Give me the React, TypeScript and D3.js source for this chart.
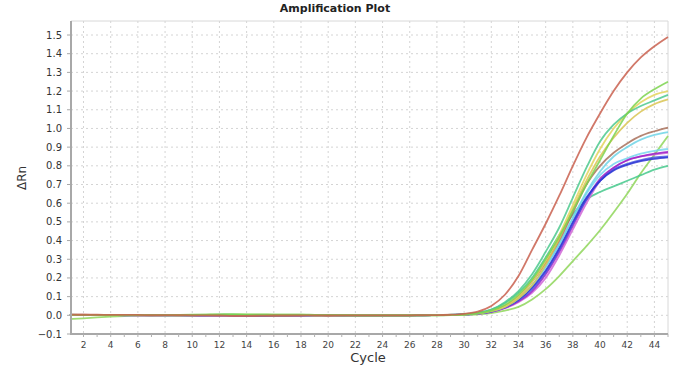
import React from "react";
import * as d3 from "d3";

const cycles = [1,2,3,4,5,6,7,8,9,10,11,12,13,14,15,16,17,18,19,20,21,22,23,24,25,26,27,28,29,30,31,32,33,34,35,36,37,38,39,40,41,42,43,44,45];

const xTicks = [2,4,6,8,10,12,14,16,18,20,22,24,26,28,30,32,34,36,38,40,42,44];
const yTicks = [-0.1,0,0.1,0.2,0.3,0.4,0.5,0.6,0.7,0.8,0.9,1.0,1.1,1.2,1.3,1.4,1.5];

const blue1 = [0.002,0.002,0.001,0.001,0.001,0.001,0.000,0.000,0.000,0.000,
 0.000,0.000,0.000,-0.001,-0.001,-0.001,-0.001,0.000,0.000,0.000,
 0.000,0.000,0.000,0.000,0.000,0.000,0.000,0.001,0.002,0.005,
 0.010,0.022,0.045,0.085,0.15,0.24,0.36,0.50,0.63,0.72,
 0.775,0.805,0.825,0.837,0.845];
const blue2 = [0.001,0.001,0.001,0.001,0.000,0.000,0.000,0.000,0.000,0.000,
 0.000,0.000,-0.001,-0.001,-0.001,0.000,0.000,0.000,0.000,0.000,
 0.000,0.000,0.000,0.000,0.000,0.000,0.000,0.001,0.002,0.004,
 0.009,0.020,0.042,0.08,0.14,0.23,0.35,0.49,0.62,0.72,
 0.78,0.81,0.83,0.845,0.85];
const purple = [0.002,0.001,0.001,0.001,0.001,0.000,0.000,0.000,0.000,0.000,
 0.000,0.000,0.000,0.000,-0.001,-0.002,-0.002,-0.001,0.000,-0.001,
 -0.001,0.000,0.000,0.000,0.000,0.000,0.000,0.001,0.002,0.004,
 0.009,0.019,0.040,0.075,0.13,0.22,0.34,0.48,0.62,0.73,
 0.79,0.83,0.85,0.865,0.875];
const magenta = [0.001,0.001,0.001,0.001,0.000,0.000,0.000,0.000,0.000,0.000,
 0.000,0.000,0.000,0.000,0.000,-0.001,-0.001,0.000,0.000,0.000,
 0.000,0.000,0.000,0.000,0.000,0.000,0.000,0.001,0.002,0.003,
 0.008,0.018,0.038,0.07,0.12,0.20,0.32,0.46,0.60,0.72,
 0.79,0.83,0.85,0.86,0.87];
const cyan2 = [0.002,0.002,0.001,0.001,0.001,0.001,0.001,0.000,0.000,0.000,
 0.000,0.001,0.001,0.000,0.000,0.000,0.000,0.000,0.000,0.000,
 0.000,0.000,0.000,0.000,0.000,0.000,0.000,0.001,0.002,0.005,
 0.010,0.022,0.046,0.09,0.16,0.26,0.38,0.52,0.65,0.75,
 0.81,0.84,0.865,0.88,0.89];
const tealLow = [0.002,0.002,0.002,0.002,0.001,0.001,0.001,0.001,0.001,0.001,
 0.002,0.002,0.002,0.002,0.001,0.001,0.001,0.001,0.000,0.000,
 0.000,0.000,0.000,0.000,0.000,0.000,0.001,0.001,0.003,0.006,
 0.014,0.03,0.065,0.12,0.20,0.31,0.43,0.54,0.62,0.66,
 0.69,0.72,0.75,0.78,0.80];
const lateGreen = [-0.020,-0.016,-0.011,-0.007,-0.004,-0.002,-0.001,0.000,0.001,0.002,
 0.003,0.004,0.005,0.005,0.005,0.004,0.004,0.003,0.002,0.001,
 0.000,0.000,0.000,0.000,0.000,0.000,0.000,0.000,0.001,0.002,
 0.005,0.012,0.025,0.045,0.085,0.14,0.21,0.29,0.37,0.455,
 0.55,0.65,0.76,0.86,0.96];
const cyan1 = [0.002,0.002,0.002,0.001,0.001,0.001,0.001,0.000,0.000,0.000,
 0.001,0.001,0.001,0.000,0.000,0.000,0.000,0.000,0.000,0.000,
 0.000,0.000,0.000,0.000,0.000,0.000,0.000,0.001,0.002,0.004,
 0.010,0.022,0.045,0.09,0.16,0.26,0.38,0.52,0.66,0.77,
 0.85,0.90,0.94,0.965,0.98];
const brown = [0.003,0.003,0.002,0.002,0.002,0.001,0.001,0.001,0.000,0.000,
 0.000,0.000,-0.001,-0.002,-0.001,-0.001,0.000,0.000,0.000,0.000,
 0.000,0.000,0.000,0.000,0.000,0.000,0.001,0.001,0.002,0.005,
 0.012,0.025,0.05,0.10,0.18,0.28,0.40,0.55,0.70,0.80,
 0.87,0.92,0.96,0.985,1.005];
const yellow2 = [0.002,0.002,0.001,0.001,0.001,0.001,0.000,0.000,0.000,0.000,
 0.001,0.001,0.001,0.001,0.001,0.000,0.000,0.001,0.000,0.000,
 0.000,0.000,0.000,0.000,0.000,0.000,0.000,0.001,0.002,0.004,
 0.010,0.022,0.045,0.09,0.16,0.27,0.41,0.57,0.72,0.85,
 0.95,1.03,1.09,1.13,1.155];
const yellow1 = [0.001,0.001,0.001,0.001,0.001,0.000,0.000,0.000,0.000,0.001,
 0.001,0.002,0.002,0.001,0.001,0.001,0.001,0.001,0.000,0.000,
 0.000,0.000,0.000,0.000,0.000,0.000,0.000,0.001,0.002,0.004,
 0.010,0.025,0.05,0.10,0.18,0.29,0.43,0.59,0.75,0.89,
 1.00,1.08,1.14,1.18,1.20];
const greenMid = [0.003,0.002,0.002,0.002,0.001,0.001,0.001,0.001,0.001,0.002,
 0.002,0.003,0.003,0.002,0.002,0.002,0.002,0.002,0.001,0.001,
 0.000,0.000,0.000,0.000,0.000,0.000,0.001,0.001,0.002,0.005,
 0.012,0.03,0.07,0.13,0.22,0.34,0.47,0.63,0.79,0.93,
 1.02,1.08,1.12,1.15,1.18];
const greenHi = [0.002,0.002,0.002,0.001,0.001,0.001,0.001,0.001,0.002,0.003,
 0.004,0.005,0.005,0.004,0.004,0.004,0.003,0.004,0.002,0.001,
 0.001,0.000,0.000,0.000,0.000,0.000,0.000,0.000,0.001,0.004,
 0.010,0.025,0.055,0.11,0.19,0.30,0.42,0.56,0.70,0.83,
 0.96,1.08,1.16,1.21,1.25];
const red = [0.004,0.003,0.003,0.002,0.002,0.002,0.001,0.001,0.001,0.000,
 0.000,-0.001,-0.003,-0.003,-0.002,-0.001,-0.001,-0.001,0.000,-0.001,
 0.000,0.000,0.000,0.000,0.000,0.000,0.001,0.001,0.003,0.008,
 0.02,0.05,0.11,0.21,0.35,0.49,0.64,0.80,0.95,1.08,
 1.20,1.30,1.38,1.44,1.49];

const series = [
  { name: "lateGreen", values: lateGreen, color: "#8fd65a" },
  { name: "tealLow", values: tealLow, color: "#45c98c" },
  { name: "cyan2", values: cyan2, color: "#78d6ee" },
  { name: "magenta", values: magenta, color: "#d066d6" },
  { name: "purple", values: purple, color: "#9a20c8" },
  { name: "blue2", values: blue2, color: "#4a58e0" },
  { name: "blue1", values: blue1, color: "#2a32d4" },
  { name: "cyan1", values: cyan1, color: "#6fd4e6" },
  { name: "brown", values: brown, color: "#a8705a" },
  { name: "yellow2", values: yellow2, color: "#d9c452" },
  { name: "yellow1", values: yellow1, color: "#e3d45c" },
  { name: "greenMid", values: greenMid, color: "#4cc98e" },
  { name: "greenHi", values: greenHi, color: "#7dd34f" },
  { name: "red", values: red, color: "#c9604f" },
];

const W = 680, H = 369;
const L = 71, R = 668, T = 21, B = 334;
const FONT = "'DejaVu Sans', Verdana, sans-serif";

export default function App() {
  const x = d3.scaleLinear().domain([1.08, 45]).range([L, R]);
  const y = d3.scaleLinear().domain([-0.1, 1.575]).range([B, T]);
  const line = d3.line<number>()
    .x((_, i) => x(cycles[i]))
    .y((v) => y(v))
    .curve(d3.curveMonotoneX);

  return (
    <svg width={W} height={H} style={{ position: "absolute", left: 0, top: 0, display: "block", background: "#fff" }}>
      <text x={335} y={12} textAnchor="middle" fontFamily={FONT} fontWeight="bold" fontSize={11} fill="#222">Amplification Plot</text>
      {/* grid */}
      {xTicks.map((t) => (
        <line key={"gx" + t} x1={x(t)} x2={x(t)} y1={T} y2={B} stroke="#d4d4d4" strokeWidth={1} strokeDasharray="2,3" />
      ))}
      {yTicks.filter((t) => t > -0.1).map((t) => (
        <line key={"gy" + t} x1={L} x2={R} y1={y(t)} y2={y(t)} stroke="#d4d4d4" strokeWidth={1} strokeDasharray="2,3" />
      ))}
      {/* frame */}
      <line x1={L} x2={R} y1={T} y2={T} stroke="#d8d8d8" strokeWidth={1} />
      <line x1={R} x2={R} y1={T} y2={B} stroke="#d8d8d8" strokeWidth={1} />
      {/* curves */}
      <g fill="none" strokeWidth={1.8} strokeOpacity={0.85}>
        {series.map((s) => (
          <path key={s.name} d={line(s.values) || ""} stroke={s.color} />
        ))}
      </g>
      {/* axes */}
      <line x1={L} x2={L} y1={T} y2={B + 1} stroke="#a8a8a8" strokeWidth={2} />
      <line x1={L} x2={R} y1={B} y2={B} stroke="#a8a8a8" strokeWidth={2} />
      {cycles.filter((c) => c >= 2).map((c) => (
        <line key={"tx" + c} x1={x(c)} x2={x(c)} y1={B} y2={B + 3} stroke="#b0b0b0" strokeWidth={1} />
      ))}
      {yTicks.map((t) => (
        <line key={"ty" + t} x1={L - 4} x2={L} y1={y(t)} y2={y(t)} stroke="#a8a8a8" strokeWidth={1} />
      ))}
      {xTicks.map((t) => (
        <text key={"lx" + t} x={x(t)} y={348} textAnchor="middle" fontFamily={FONT} fontSize={9} fill="#444">{t}</text>
      ))}
      {yTicks.map((t) => (
        <text key={"ly" + t} x={62} y={y(t)} dy="0.35em" textAnchor="end" fontFamily={FONT} fontSize={10} fill="#333">{d3.format(".1f")(t)}</text>
      ))}
      <text x={368} y={362} textAnchor="middle" fontFamily={FONT} fontSize={13} fill="#333">Cycle</text>
      <text transform="translate(26,178) rotate(-90)" textAnchor="middle" fontFamily={FONT} fontSize={12} fill="#333">ΔRn</text>
    </svg>
  );
}
